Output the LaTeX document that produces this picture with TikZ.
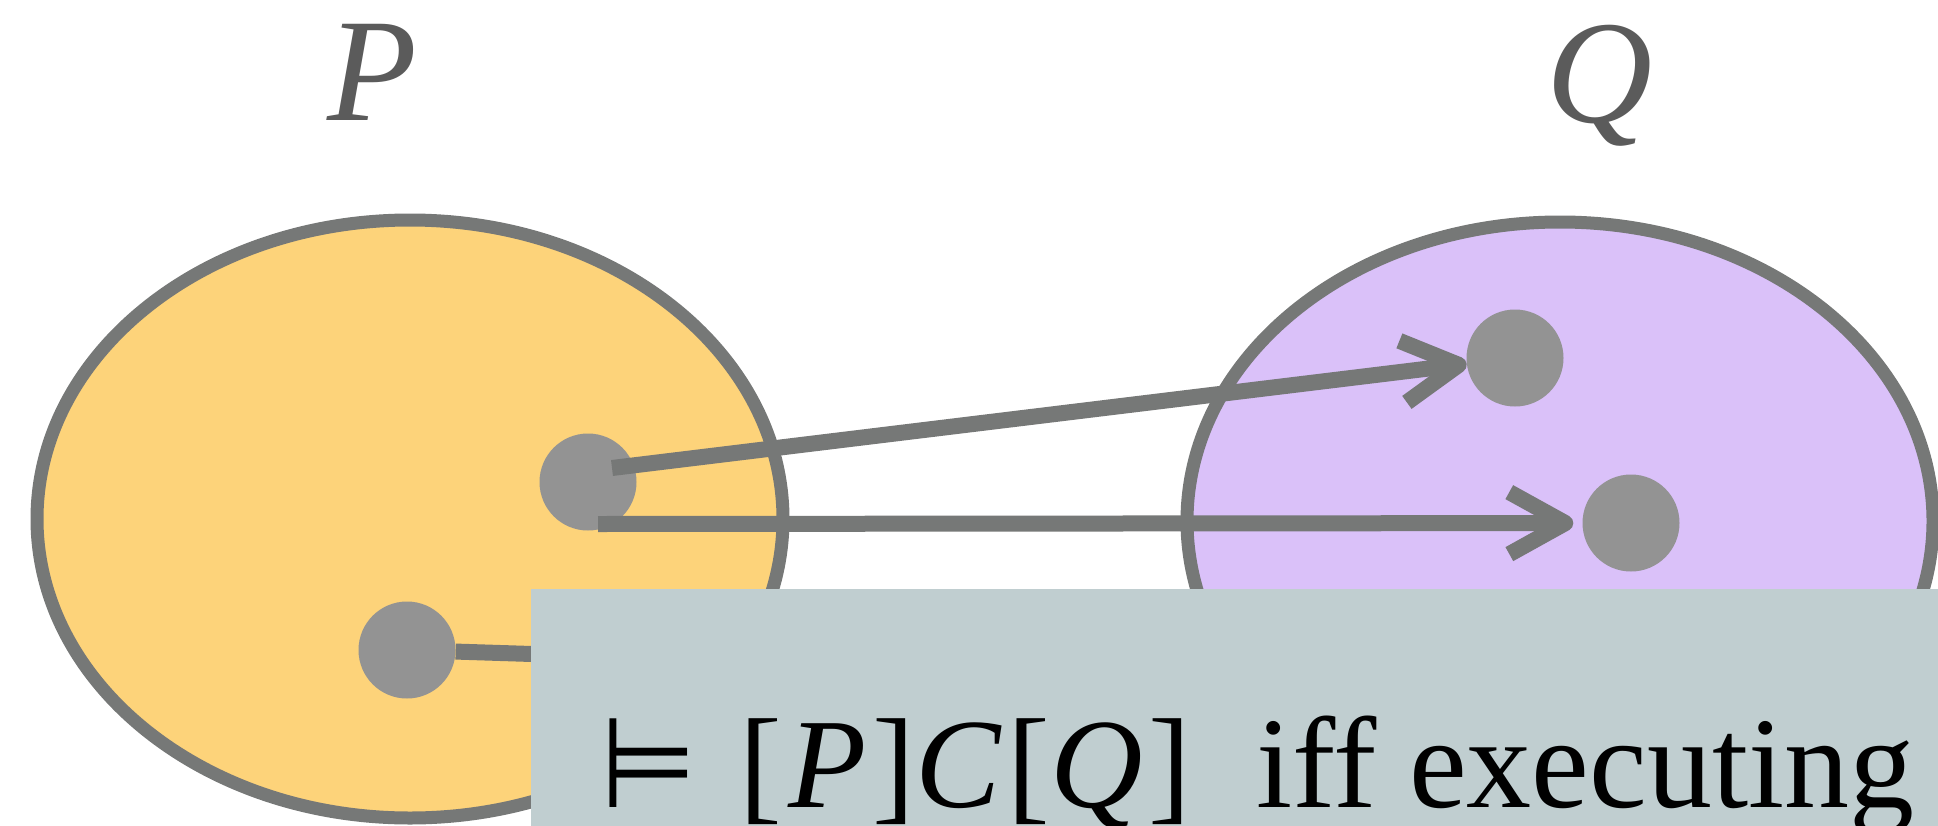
\documentclass[tikz,border=0pt]{standalone}
\usepackage{fontspec}
\setmainfont{Liberation Serif}
\newfontfamily\symfont{DejaVu Sans}
\usetikzlibrary{arrows.meta,shapes.geometric}
\definecolor{yel}{HTML}{FDD37A}
\definecolor{pur}{HTML}{DAC1F9}
\definecolor{dotg}{HTML}{939393}
\definecolor{lineg}{HTML}{767877}
\definecolor{boxg}{HTML}{C0CED0}
\definecolor{labg}{HTML}{5B5B5B}
\begin{document}
\begin{tikzpicture}[x=1pt,y=-1pt,
  setell/.style={ellipse,draw=lineg,line width=13pt,minimum width=746pt,minimum height=598pt,inner sep=0pt},
  dot/.style={circle,fill=dotg,minimum size=97pt,inner sep=0pt},
  conn/.style={draw=lineg,line width=16pt},
  arr/.style={conn,-{Straight Barb[length=56pt,width=62pt,line join=round,line cap=butt]}},
  lab/.style={text=labg,font=\fontsize{147}{150}\selectfont\itshape,inner sep=0pt,anchor=base},
  ]
\useasboundingbox (0,0) rectangle (1938,825);
\clip (0,0) rectangle (1938,825);
% sets
\node[setell,fill=yel] (P) at (410,519) {};
\node[setell,fill=pur] (Q) at (1560,521) {};
% labels
\node[lab] (Plab) at (372,120) {P};
\node[lab] (Qlab) at (1600,122) {Q};
% points
\node[dot] (p1) at (588,482) {};
\node[dot] (p2) at (407,650) {};
\node[dot] (q1) at (1515,358) {};
\node[dot] (q2) at (1631,523) {};
% connectors
\coordinate (s1) at (612,468);
\coordinate (s2) at (598,524);
\coordinate (l2b) at (1000,669);
\draw[conn] (p2) -- (l2b);
\draw[arr] (s1) -- (q1);
\draw[arr,shorten >=9pt] (s2) -- (q2);
% box
\node[fill=boxg,anchor=north west,minimum width=1450pt,minimum height=300pt,inner sep=0pt] (box) at (531,589) {};
\node[anchor=base west,inner sep=0pt,font=\fontsize{128}{130}\selectfont] (txt) at (600,807)
  {{\symfont\fontsize{123}{125}\selectfont\scalebox{0.9}[1.03]{⊨}}\hspace{43pt}[\kern6pt\textit{P}\kern6pt]\textit{C}\kern6pt[\textit{Q}\kern6pt]\hspace{65pt}{\fontsize{130}{132}\selectfont iff executing}};
\end{tikzpicture}
\end{document}
